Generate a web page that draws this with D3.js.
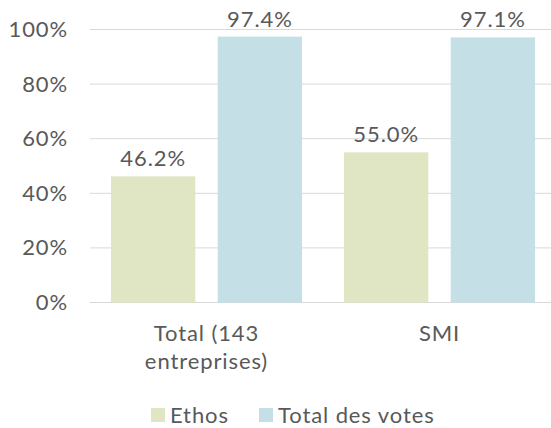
<!DOCTYPE html>
<html>
<head>
<meta charset="utf-8">
<style>
    body { margin: 0; background: #fff; }
    svg { font-family: Lato, 'Open Sans', sans-serif; }
</style>
</head>
<body>
<svg width="551" height="428"></svg>
<script src="https://d3js.org/d3.v7.min.js"></script>
<script>
    // data
    let categories = [["Total (143", "entreprises)"], ["SMI"]]
    let seriesNames = ["Ethos", "Total des votes"]
    let ethos = [46.2, 55.0]
    let totalVotes = [97.4, 97.1]
    let yTicks = [0, 20, 40, 60, 80, 100]
    let colors = ["#e0e5c4", "#c4e0e6"]

    let svg = d3.select("svg")
    let textColor = "#595959"
    let fontSize = "22px"
    let spacing = "0.9px"

    let x0 = d3.scaleBand()
        .domain(d3.range(categories.length))
        .range([90, 556])
        .paddingInner(0.18)
        .paddingOuter(0.09)

    let x1 = d3.scaleBand()
        .domain(d3.range(seriesNames.length))
        .range([0, x0.bandwidth()])
        .paddingInner(0.21)

    let y = d3.scaleLinear().domain([0, 100]).range([302.5, 29.5])

    // grid
    svg.append("g")
        .selectAll("line")
        .data(yTicks)
        .join("line")
        .attr("x1", 90).attr("x2", 551)
        .attr("y1", d => y(d)).attr("y2", d => y(d))
        .attr("stroke", "#d9d9d9")
        .attr("stroke-width", 1)

    // y axis labels
    let yAxis = svg.append("g")
        .attr("transform", "translate(68,0)")
        .call(d3.axisLeft(y).tickValues(yTicks).tickFormat(d => d + "%").tickSize(0).tickPadding(0))
    yAxis.select(".domain").remove()
    yAxis.selectAll("text")
        .attr("fill", textColor)
        .style("font-size", fontSize)
        .style("font-family", "Lato, sans-serif")
        .style("letter-spacing", spacing)

    let rows = []
    categories.forEach((c, i) => {
        rows.push({ cat: i, s: 0, v: ethos[i] })
        rows.push({ cat: i, s: 1, v: totalVotes[i] })
    })

    svg.append("g")
        .selectAll("rect")
        .data(rows)
        .join("rect")
        .attr("x", d => x0(d.cat) + x1(d.s))
        .attr("width", x1.bandwidth())
        .attr("y", d => y(d.v))
        .attr("height", d => y(0) - y(d.v))
        .attr("fill", d => colors[d.s])

    svg.append("g")
        .selectAll("text")
        .data(rows)
        .join("text")
        .attr("x", d => x0(d.cat) + x1(d.s) + x1.bandwidth() / 2)
        .attr("y", d => y(d.v) - 10)
        .attr("text-anchor", "middle")
        .attr("fill", textColor)
        .style("font-size", fontSize)
        .style("letter-spacing", spacing)
        .text(d => d.v.toFixed(1) + "%")

    // category labels
    let catLabels = svg.append("g")
        .selectAll("text")
        .data(categories)
        .join("text")
        .attr("x", (d, i) => x0(i) + x0.bandwidth() / 2)
        .attr("y", 341)
        .attr("text-anchor", "middle")
        .attr("fill", textColor)
        .style("font-size", fontSize)
        .style("letter-spacing", spacing)
    catLabels.selectAll("tspan")
        .data(d => d)
        .join("tspan")
        .attr("x", function () { return d3.select(this.parentNode).attr("x") })
        .attr("dy", (d, i) => i == 0 ? 0 : 28)
        .text(d => d)

    // legend
    let legendX = [151, 259]
    let legend = svg.append("g")
        .selectAll("g")
        .data(seriesNames)
        .join("g")
        .attr("transform", (d, i) => `translate(${legendX[i]},408)`)
    legend.append("rect")
        .attr("width", 14).attr("height", 14)
        .attr("fill", (d, i) => colors[i])
    legend.append("text")
        .attr("x", 19).attr("y", 15)
        .attr("fill", textColor)
        .style("font-size", fontSize)
        .style("letter-spacing", spacing)
        .text(d => d)
</script>
</body>
</html>
